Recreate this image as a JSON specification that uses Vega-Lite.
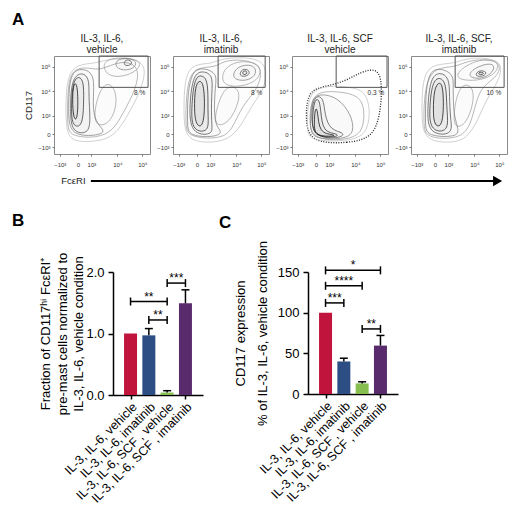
{
  "$schema": "https://vega.github.io/schema/vega-lite/v6.json",
  "padding": {"left": 12, "top": 11, "right": 0, "bottom": 0},
  "config": {
    "font": "Liberation Sans",
    "view": {"stroke": null},
    "axis": {"grid": false, "labelOverlap": false},
    "title": {"fontWeight": "normal", "color": "#222"}
  },
  "datasets": {
    "flow": [
      {"p":1,"k":1,"l":1,"x":14,"y":15},{"p":1,"k":1,"l":1,"x":30,"y":12},{"p":1,"k":1,"l":1,"x":55,"y":14},{"p":1,"k":1,"l":1,"x":68,"y":25},{"p":1,"k":1,"l":1,"x":80,"y":45},{"p":1,"k":1,"l":1,"x":92,"y":68},{"p":1,"k":1,"l":1,"x":98,"y":97},{"p":1,"k":1,"l":1,"x":60,"y":98},{"p":1,"k":1,"l":1,"x":42,"y":92},{"p":1,"k":1,"l":1,"x":25,"y":92},{"p":1,"k":1,"l":1,"x":13,"y":80},{"p":1,"k":1,"l":1,"x":12,"y":40},
      {"p":1,"k":2,"l":2,"x":16,"y":18},{"p":1,"k":2,"l":2,"x":45,"y":16},{"p":1,"k":2,"l":2,"x":62,"y":24},{"p":1,"k":2,"l":2,"x":72,"y":42},{"p":1,"k":2,"l":2,"x":85,"y":65},{"p":1,"k":2,"l":2,"x":90,"y":90},{"p":1,"k":2,"l":2,"x":70,"y":96},{"p":1,"k":2,"l":2,"x":48,"y":85},{"p":1,"k":2,"l":2,"x":38,"y":88},{"p":1,"k":2,"l":2,"x":20,"y":88},{"p":1,"k":2,"l":2,"x":14,"y":70},{"p":1,"k":2,"l":2,"x":14,"y":30},
      {"p":1,"k":3,"l":2,"x":40,"y":30},{"p":1,"k":3,"l":2,"x":55,"y":28},{"p":1,"k":3,"l":2,"x":65,"y":45},{"p":1,"k":3,"l":2,"x":65,"y":65},{"p":1,"k":3,"l":2,"x":55,"y":75},{"p":1,"k":3,"l":2,"x":45,"y":60},
      {"p":1,"k":4,"l":2,"x":55,"y":80},{"p":1,"k":4,"l":2,"x":70,"y":78},{"p":1,"k":4,"l":2,"x":88,"y":85},{"p":1,"k":4,"l":2,"x":92,"y":97},{"p":1,"k":4,"l":2,"x":60,"y":99},{"p":1,"k":4,"l":2,"x":50,"y":92},
      {"p":1,"k":5,"l":3,"x":65,"y":86},{"p":1,"k":5,"l":3,"x":80,"y":85},{"p":1,"k":5,"l":3,"x":88,"y":93},{"p":1,"k":5,"l":3,"x":78,"y":99},{"p":1,"k":5,"l":3,"x":63,"y":96},
      {"p":1,"k":6,"l":4,"x":72,"y":90},{"p":1,"k":6,"l":4,"x":80,"y":90},{"p":1,"k":6,"l":4,"x":82,"y":95},{"p":1,"k":6,"l":4,"x":74,"y":97},
      {"p":1,"k":7,"l":3,"x":16,"y":20},{"p":1,"k":7,"l":3,"x":40,"y":18},{"p":1,"k":7,"l":3,"x":55,"y":22},{"p":1,"k":7,"l":3,"x":45,"y":30},{"p":1,"k":7,"l":3,"x":40,"y":45},{"p":1,"k":7,"l":3,"x":42,"y":70},{"p":1,"k":7,"l":3,"x":40,"y":84},{"p":1,"k":7,"l":3,"x":26,"y":88},{"p":1,"k":7,"l":3,"x":16,"y":80},{"p":1,"k":7,"l":3,"x":15,"y":45},
      {"p":1,"k":8,"l":4,"x":18,"y":22},{"p":1,"k":8,"l":4,"x":36,"y":20},{"p":1,"k":8,"l":4,"x":38,"y":35},{"p":1,"k":8,"l":4,"x":36,"y":60},{"p":1,"k":8,"l":4,"x":37,"y":78},{"p":1,"k":8,"l":4,"x":28,"y":84},{"p":1,"k":8,"l":4,"x":18,"y":76},{"p":1,"k":8,"l":4,"x":17,"y":45},
      {"p":1,"k":9,"l":5,"x":19,"y":28},{"p":1,"k":9,"l":5,"x":30,"y":27},{"p":1,"k":9,"l":5,"x":31,"y":55},{"p":1,"k":9,"l":5,"x":31,"y":76},{"p":1,"k":9,"l":5,"x":24,"y":80},{"p":1,"k":9,"l":5,"x":19,"y":70},{"p":1,"k":9,"l":5,"x":18,"y":45},
      {"p":1,"k":10,"l":6,"x":20,"y":35},{"p":1,"k":10,"l":6,"x":25,"y":34},{"p":1,"k":10,"l":6,"x":25,"y":70},{"p":1,"k":10,"l":6,"x":21,"y":74},{"p":1,"k":10,"l":6,"x":19,"y":60},

      {"p":2,"k":1,"l":1,"x":13,"y":15},{"p":2,"k":1,"l":1,"x":35,"y":11},{"p":2,"k":1,"l":1,"x":58,"y":14},{"p":2,"k":1,"l":1,"x":72,"y":30},{"p":2,"k":1,"l":1,"x":82,"y":50},{"p":2,"k":1,"l":1,"x":97,"y":68},{"p":2,"k":1,"l":1,"x":98,"y":96},{"p":2,"k":1,"l":1,"x":70,"y":99},{"p":2,"k":1,"l":1,"x":50,"y":97},{"p":2,"k":1,"l":1,"x":40,"y":92},{"p":2,"k":1,"l":1,"x":22,"y":92},{"p":2,"k":1,"l":1,"x":12,"y":80},{"p":2,"k":1,"l":1,"x":11,"y":40},
      {"p":2,"k":2,"l":2,"x":15,"y":17},{"p":2,"k":2,"l":2,"x":50,"y":15},{"p":2,"k":2,"l":2,"x":62,"y":25},{"p":2,"k":2,"l":2,"x":72,"y":50},{"p":2,"k":2,"l":2,"x":88,"y":65},{"p":2,"k":2,"l":2,"x":95,"y":90},{"p":2,"k":2,"l":2,"x":72,"y":97},{"p":2,"k":2,"l":2,"x":52,"y":95},{"p":2,"k":2,"l":2,"x":44,"y":88},{"p":2,"k":2,"l":2,"x":22,"y":89},{"p":2,"k":2,"l":2,"x":14,"y":70},{"p":2,"k":2,"l":2,"x":13,"y":30},
      {"p":2,"k":3,"l":2,"x":42,"y":28},{"p":2,"k":3,"l":2,"x":58,"y":30},{"p":2,"k":3,"l":2,"x":70,"y":55},{"p":2,"k":3,"l":2,"x":68,"y":68},{"p":2,"k":3,"l":2,"x":55,"y":70},{"p":2,"k":3,"l":2,"x":46,"y":50},
      {"p":2,"k":4,"l":2,"x":50,"y":70},{"p":2,"k":4,"l":2,"x":70,"y":68},{"p":2,"k":4,"l":2,"x":90,"y":75},{"p":2,"k":4,"l":2,"x":93,"y":92},{"p":2,"k":4,"l":2,"x":70,"y":96},{"p":2,"k":4,"l":2,"x":52,"y":88},
      {"p":2,"k":5,"l":3,"x":60,"y":76},{"p":2,"k":5,"l":3,"x":78,"y":74},{"p":2,"k":5,"l":3,"x":88,"y":82},{"p":2,"k":5,"l":3,"x":84,"y":92},{"p":2,"k":5,"l":3,"x":66,"y":90},
      {"p":2,"k":6,"l":4,"x":68,"y":79},{"p":2,"k":6,"l":4,"x":78,"y":79},{"p":2,"k":6,"l":4,"x":81,"y":85},{"p":2,"k":6,"l":4,"x":72,"y":88},
      {"p":2,"k":7,"l":5,"x":72,"y":81},{"p":2,"k":7,"l":5,"x":77,"y":81},{"p":2,"k":7,"l":5,"x":77,"y":85},{"p":2,"k":7,"l":5,"x":73,"y":85},
      {"p":2,"k":8,"l":3,"x":16,"y":18},{"p":2,"k":8,"l":3,"x":45,"y":17},{"p":2,"k":8,"l":3,"x":52,"y":23},{"p":2,"k":8,"l":3,"x":42,"y":30},{"p":2,"k":8,"l":3,"x":44,"y":70},{"p":2,"k":8,"l":3,"x":46,"y":82},{"p":2,"k":8,"l":3,"x":33,"y":88},{"p":2,"k":8,"l":3,"x":20,"y":86},{"p":2,"k":8,"l":3,"x":15,"y":60},{"p":2,"k":8,"l":3,"x":15,"y":30},
      {"p":2,"k":9,"l":4,"x":18,"y":20},{"p":2,"k":9,"l":4,"x":42,"y":19},{"p":2,"k":9,"l":4,"x":40,"y":30},{"p":2,"k":9,"l":4,"x":40,"y":60},{"p":2,"k":9,"l":4,"x":42,"y":80},{"p":2,"k":9,"l":4,"x":32,"y":85},{"p":2,"k":9,"l":4,"x":21,"y":82},{"p":2,"k":9,"l":4,"x":17,"y":50},
      {"p":2,"k":10,"l":5,"x":20,"y":23},{"p":2,"k":10,"l":5,"x":38,"y":22},{"p":2,"k":10,"l":5,"x":36,"y":40},{"p":2,"k":10,"l":5,"x":37,"y":75},{"p":2,"k":10,"l":5,"x":30,"y":81},{"p":2,"k":10,"l":5,"x":22,"y":78},{"p":2,"k":10,"l":5,"x":19,"y":45},
      {"p":2,"k":11,"l":6,"x":24,"y":28},{"p":2,"k":11,"l":6,"x":33,"y":27},{"p":2,"k":11,"l":6,"x":33,"y":70},{"p":2,"k":11,"l":6,"x":28,"y":76},{"p":2,"k":11,"l":6,"x":23,"y":70},{"p":2,"k":11,"l":6,"x":22,"y":45},

      {"p":3,"k":1,"l":0,"x":17,"y":11},{"p":3,"k":1,"l":0,"x":60,"y":11},{"p":3,"k":1,"l":0,"x":84,"y":17},{"p":3,"k":1,"l":0,"x":92,"y":40},{"p":3,"k":1,"l":0,"x":94,"y":70},{"p":3,"k":1,"l":0,"x":90,"y":88},{"p":3,"k":1,"l":0,"x":72,"y":84},{"p":3,"k":1,"l":0,"x":55,"y":74},{"p":3,"k":1,"l":0,"x":35,"y":69},{"p":3,"k":1,"l":0,"x":17,"y":65},{"p":3,"k":1,"l":0,"x":14,"y":40},
      {"p":3,"k":2,"l":1,"x":18,"y":13},{"p":3,"k":2,"l":1,"x":60,"y":13},{"p":3,"k":2,"l":1,"x":78,"y":20},{"p":3,"k":2,"l":1,"x":82,"y":45},{"p":3,"k":2,"l":1,"x":76,"y":65},{"p":3,"k":2,"l":1,"x":60,"y":68},{"p":3,"k":2,"l":1,"x":45,"y":70},{"p":3,"k":2,"l":1,"x":22,"y":67},{"p":3,"k":2,"l":1,"x":16,"y":50},{"p":3,"k":2,"l":1,"x":16,"y":25},
      {"p":3,"k":3,"l":2,"x":19,"y":14},{"p":3,"k":3,"l":2,"x":58,"y":14},{"p":3,"k":3,"l":2,"x":74,"y":22},{"p":3,"k":3,"l":2,"x":76,"y":45},{"p":3,"k":3,"l":2,"x":70,"y":60},{"p":3,"k":3,"l":2,"x":48,"y":64},{"p":3,"k":3,"l":2,"x":22,"y":64},{"p":3,"k":3,"l":2,"x":18,"y":40},
      {"p":3,"k":4,"l":3,"x":20,"y":15},{"p":3,"k":4,"l":3,"x":55,"y":15},{"p":3,"k":4,"l":3,"x":65,"y":22},{"p":3,"k":4,"l":3,"x":62,"y":40},{"p":3,"k":4,"l":3,"x":48,"y":58},{"p":3,"k":4,"l":3,"x":28,"y":62},{"p":3,"k":4,"l":3,"x":20,"y":55},{"p":3,"k":4,"l":3,"x":19,"y":30},
      {"p":3,"k":5,"l":4,"x":21,"y":16},{"p":3,"k":5,"l":4,"x":52,"y":16},{"p":3,"k":5,"l":4,"x":55,"y":22},{"p":3,"k":5,"l":4,"x":40,"y":24},{"p":3,"k":5,"l":4,"x":34,"y":40},{"p":3,"k":5,"l":4,"x":33,"y":58},{"p":3,"k":5,"l":4,"x":24,"y":60},{"p":3,"k":5,"l":4,"x":20,"y":45},
      {"p":3,"k":6,"l":5,"x":22,"y":17},{"p":3,"k":6,"l":5,"x":48,"y":17},{"p":3,"k":6,"l":5,"x":48,"y":21},{"p":3,"k":6,"l":5,"x":32,"y":22},{"p":3,"k":6,"l":5,"x":30,"y":45},{"p":3,"k":6,"l":5,"x":28,"y":57},{"p":3,"k":6,"l":5,"x":23,"y":55},{"p":3,"k":6,"l":5,"x":21,"y":35},
      {"p":3,"k":7,"l":6,"x":24,"y":18},{"p":3,"k":7,"l":6,"x":45,"y":18},{"p":3,"k":7,"l":6,"x":44,"y":20},{"p":3,"k":7,"l":6,"x":28,"y":21},{"p":3,"k":7,"l":6,"x":27,"y":45},{"p":3,"k":7,"l":6,"x":24,"y":48},{"p":3,"k":7,"l":6,"x":23,"y":30},

      {"p":4,"k":1,"l":1,"x":13,"y":14},{"p":4,"k":1,"l":1,"x":40,"y":11},{"p":4,"k":1,"l":1,"x":58,"y":15},{"p":4,"k":1,"l":1,"x":70,"y":35},{"p":4,"k":1,"l":1,"x":78,"y":55},{"p":4,"k":1,"l":1,"x":92,"y":75},{"p":4,"k":1,"l":1,"x":97,"y":97},{"p":4,"k":1,"l":1,"x":60,"y":99},{"p":4,"k":1,"l":1,"x":45,"y":92},{"p":4,"k":1,"l":1,"x":25,"y":92},{"p":4,"k":1,"l":1,"x":12,"y":82},{"p":4,"k":1,"l":1,"x":11,"y":40},
      {"p":4,"k":2,"l":2,"x":15,"y":16},{"p":4,"k":2,"l":2,"x":50,"y":15},{"p":4,"k":2,"l":2,"x":62,"y":28},{"p":4,"k":2,"l":2,"x":68,"y":55},{"p":4,"k":2,"l":2,"x":75,"y":70},{"p":4,"k":2,"l":2,"x":92,"y":80},{"p":4,"k":2,"l":2,"x":94,"y":96},{"p":4,"k":2,"l":2,"x":62,"y":97},{"p":4,"k":2,"l":2,"x":46,"y":88},{"p":4,"k":2,"l":2,"x":25,"y":89},{"p":4,"k":2,"l":2,"x":14,"y":70},{"p":4,"k":2,"l":2,"x":13,"y":30},
      {"p":4,"k":3,"l":2,"x":44,"y":25},{"p":4,"k":3,"l":2,"x":58,"y":30},{"p":4,"k":3,"l":2,"x":66,"y":55},{"p":4,"k":3,"l":2,"x":64,"y":70},{"p":4,"k":3,"l":2,"x":52,"y":72},{"p":4,"k":3,"l":2,"x":45,"y":50},
      {"p":4,"k":4,"l":2,"x":46,"y":76},{"p":4,"k":4,"l":2,"x":70,"y":74},{"p":4,"k":4,"l":2,"x":90,"y":82},{"p":4,"k":4,"l":2,"x":92,"y":96},{"p":4,"k":4,"l":2,"x":70,"y":97},{"p":4,"k":4,"l":2,"x":50,"y":86},
      {"p":4,"k":5,"l":3,"x":58,"y":78},{"p":4,"k":5,"l":3,"x":76,"y":76},{"p":4,"k":5,"l":3,"x":88,"y":86},{"p":4,"k":5,"l":3,"x":85,"y":94},{"p":4,"k":5,"l":3,"x":65,"y":88},
      {"p":4,"k":6,"l":4,"x":66,"y":79},{"p":4,"k":6,"l":4,"x":76,"y":79},{"p":4,"k":6,"l":4,"x":80,"y":84},{"p":4,"k":6,"l":4,"x":70,"y":86},
      {"p":4,"k":7,"l":5,"x":70,"y":81},{"p":4,"k":7,"l":5,"x":75,"y":81},{"p":4,"k":7,"l":5,"x":76,"y":83},{"p":4,"k":7,"l":5,"x":71,"y":84},
      {"p":4,"k":8,"l":3,"x":16,"y":18},{"p":4,"k":8,"l":3,"x":48,"y":17},{"p":4,"k":8,"l":3,"x":50,"y":25},{"p":4,"k":8,"l":3,"x":44,"y":40},{"p":4,"k":8,"l":3,"x":44,"y":70},{"p":4,"k":8,"l":3,"x":44,"y":82},{"p":4,"k":8,"l":3,"x":30,"y":88},{"p":4,"k":8,"l":3,"x":18,"y":84},{"p":4,"k":8,"l":3,"x":15,"y":55},{"p":4,"k":8,"l":3,"x":15,"y":30},
      {"p":4,"k":9,"l":4,"x":18,"y":20},{"p":4,"k":9,"l":4,"x":44,"y":19},{"p":4,"k":9,"l":4,"x":41,"y":35},{"p":4,"k":9,"l":4,"x":40,"y":60},{"p":4,"k":9,"l":4,"x":40,"y":78},{"p":4,"k":9,"l":4,"x":30,"y":84},{"p":4,"k":9,"l":4,"x":20,"y":78},{"p":4,"k":9,"l":4,"x":17,"y":45},
      {"p":4,"k":10,"l":5,"x":20,"y":23},{"p":4,"k":10,"l":5,"x":40,"y":22},{"p":4,"k":10,"l":5,"x":37,"y":45},{"p":4,"k":10,"l":5,"x":37,"y":72},{"p":4,"k":10,"l":5,"x":30,"y":79},{"p":4,"k":10,"l":5,"x":22,"y":74},{"p":4,"k":10,"l":5,"x":19,"y":45},
      {"p":4,"k":11,"l":6,"x":24,"y":28},{"p":4,"k":11,"l":6,"x":34,"y":27},{"p":4,"k":11,"l":6,"x":34,"y":70},{"p":4,"k":11,"l":6,"x":29,"y":74},{"p":4,"k":11,"l":6,"x":24,"y":66},{"p":4,"k":11,"l":6,"x":23,"y":45}
    ],
    "gates": [
      {"p":1,"x":47,"x2":98,"y":68,"y2":100},
      {"p":2,"x":47,"x2":96,"y":68,"y2":100},
      {"p":3,"x":46,"x2":99,"y":68,"y2":100},
      {"p":4,"x":46,"x2":97,"y":68,"y2":100}
    ],
    "pcts": [
      {"p":1,"x":95,"y":62,"pct":"8 %"},
      {"p":2,"x":93,"y":62,"pct":"8 %"},
      {"p":3,"x":96,"y":62,"pct":"0.3 %"},
      {"p":4,"x":94,"y":62,"pct":"10 %"}
    ],
    "arrow": [{"a":16,"b":98.5,"t":10,"lab":"FcεRI"}],
    "barsB": [
      {"i":0,"cond":"IL-3, IL-6, vehicle","v":1.0},
      {"i":1,"cond":"IL-3, IL-6, imatinib","v":0.97,"hi":1.08},
      {"i":2,"cond":"IL-3, IL-6, SCF , vehicle","v":0.04,"hi":0.07},
      {"i":3,"cond":"IL-3, IL-6, SCF , imatinib","v":1.49,"hi":1.71}
    ],
    "barsC": [
      {"i":0,"cond":"IL-3, IL-6, vehicle","v":100},
      {"i":1,"cond":"IL-3, IL-6, imatinib","v":40,"hi":44},
      {"i":2,"cond":"IL-3, IL-6, SCF , vehicle","v":13,"hi":15},
      {"i":3,"cond":"IL-3, IL-6, SCF , imatinib","v":59.5,"hi":72}
    ],
    "brkB": [
      {"a":0,"b":2,"m":1,"y":1.52,"s":"**"},
      {"a":1,"b":2,"m":1.5,"y":1.22,"s":"**"},
      {"a":2,"b":3,"m":2.5,"y":1.82,"s":"***"}
    ],
    "brkC": [
      {"a":0,"b":3,"m":1.5,"y":152,"s":"*"},
      {"a":0,"b":2,"m":1,"y":133,"s":"****"},
      {"a":0,"b":1,"m":0.5,"y":112,"s":"***"},
      {"a":2,"b":3,"m":2.5,"y":80,"s":"**"}
    ]
  },
  "vconcat": [
    {
      "vconcat": [
        {
          "title": {"text": "A", "anchor": "start", "frame": "bounds", "fontSize": 17, "fontWeight": "bold", "color": "#000", "offset": 4},
          "spacing": 5,
          "hconcat": [
            {"width": 6, "height": 10, "data": {"values": []}, "mark": {"type": "point"}, "encoding": {}},
            {
              "width": 96, "height": 98,
              "view": {"stroke": "#8a8a8a"},
              "title": {"text": ["IL-3, IL-6,", "vehicle"], "fontSize": 10, "lineHeight": 11, "offset": 1},
              "data": {"name": "flow"},
              "encoding": {
                "x": {"field": "x", "type": "quantitative", "scale": {"domain": [0, 100], "nice": false},
                  "axis": {"values": [6, 25, 39, 66, 92], "labelExpr": "datum.value==6?'−10³':datum.value==25?'0':datum.value==39?'10³':datum.value==66?'10⁴':'10⁵'", "title": null, "domain": false, "tickSize": 2, "tickColor": "#777", "labelFontSize": 6, "labelColor": "#333", "labelPadding": 5, "labelFlush": false}},
                "y": {"field": "y", "type": "quantitative", "scale": {"domain": [0, 100], "nice": false},
                  "axis": {"values": [7, 20, 39, 64, 89], "labelExpr": "datum.value==7?'−10³':datum.value==20?'0':datum.value==39?'10³':datum.value==64?'10⁴':'10⁵'", "title": "CD117", "titleFontSize": 9.5, "titleFontWeight": "normal", "titleColor": "#222", "titlePadding": 4, "domain": false, "tickSize": 2, "tickColor": "#777", "labelFontSize": 6, "labelColor": "#333", "labelPadding": 2, "labelFlush": false}}
              },
              "layer": [
                {
                  "transform": [{"filter": "datum.p == 1 && datum.l > 0"}],
                  "mark": {"type": "line", "interpolate": "basis-closed", "fill": "#000", "strokeWidth": 0.7},
                  "encoding": {
                    "detail": {"field": "k"},
                    "order": {"value": null},
                    "color": {"field": "l", "type": "ordinal", "scale": {"domain": [1, 2, 3, 4, 5, 6], "range": ["#bbbbbb", "#999999", "#777777", "#444444", "#222222", "#000000"]}, "legend": null},
                    "fillOpacity": {"field": "l", "type": "ordinal", "scale": {"domain": [1, 2, 3, 4, 5, 6], "range": [0, 0.04, 0.08, 0.16, 0.3, 0.45]}, "legend": null}
                  }
                },
                {
                  "data": {"name": "gates"},
                  "transform": [{"filter": "datum.p == 1"}],
                  "mark": {"type": "rect", "filled": false, "color": "#555", "strokeWidth": 1},
                  "encoding": {"x2": {"field": "x2"}, "y2": {"field": "y2"}}
                },
                {
                  "data": {"name": "pcts"},
                  "transform": [{"filter": "datum.p == 1"}],
                  "mark": {"type": "text", "align": "right", "fontSize": 6.5, "color": "#333"},
                  "encoding": {"text": {"field": "pct"}}
                }
              ]
            },
            {
              "width": 96, "height": 98,
              "view": {"stroke": "#8a8a8a"},
              "title": {"text": ["IL-3, IL-6,", "imatinib"], "fontSize": 10, "lineHeight": 11, "offset": 1},
              "data": {"name": "flow"},
              "encoding": {
                "x": {"field": "x", "type": "quantitative", "scale": {"domain": [0, 100], "nice": false},
                  "axis": {"values": [6, 25, 39, 66, 92], "labelExpr": "datum.value==6?'−10³':datum.value==25?'0':datum.value==39?'10³':datum.value==66?'10⁴':'10⁵'", "title": null, "domain": false, "tickSize": 2, "tickColor": "#777", "labelFontSize": 6, "labelColor": "#333", "labelPadding": 5, "labelFlush": false}},
                "y": {"field": "y", "type": "quantitative", "scale": {"domain": [0, 100], "nice": false},
                  "axis": {"values": [7, 20, 39, 64, 89], "labelExpr": "datum.value==7?'−10³':datum.value==20?'0':datum.value==39?'10³':datum.value==64?'10⁴':'10⁵'", "title": null, "domain": false, "tickSize": 2, "tickColor": "#777", "labelFontSize": 6, "labelColor": "#333", "labelPadding": 2, "labelFlush": false}}
              },
              "layer": [
                {
                  "transform": [{"filter": "datum.p == 2 && datum.l > 0"}],
                  "mark": {"type": "line", "interpolate": "basis-closed", "fill": "#000", "strokeWidth": 0.7},
                  "encoding": {
                    "detail": {"field": "k"},
                    "order": {"value": null},
                    "color": {"field": "l", "type": "ordinal", "scale": {"domain": [1, 2, 3, 4, 5, 6], "range": ["#bbbbbb", "#999999", "#777777", "#444444", "#222222", "#000000"]}, "legend": null},
                    "fillOpacity": {"field": "l", "type": "ordinal", "scale": {"domain": [1, 2, 3, 4, 5, 6], "range": [0, 0.04, 0.08, 0.16, 0.3, 0.45]}, "legend": null}
                  }
                },
                {
                  "data": {"name": "gates"},
                  "transform": [{"filter": "datum.p == 2"}],
                  "mark": {"type": "rect", "filled": false, "color": "#555", "strokeWidth": 1},
                  "encoding": {"x2": {"field": "x2"}, "y2": {"field": "y2"}}
                },
                {
                  "data": {"name": "pcts"},
                  "transform": [{"filter": "datum.p == 2"}],
                  "mark": {"type": "text", "align": "right", "fontSize": 6.5, "color": "#333"},
                  "encoding": {"text": {"field": "pct"}}
                }
              ]
            },
            {
              "width": 96, "height": 98,
              "view": {"stroke": "#8a8a8a"},
              "title": {"text": ["IL-3, IL-6, SCF", "vehicle"], "fontSize": 10, "lineHeight": 11, "offset": 1},
              "data": {"name": "flow"},
              "encoding": {
                "x": {"field": "x", "type": "quantitative", "scale": {"domain": [0, 100], "nice": false},
                  "axis": {"values": [6, 25, 39, 66, 92], "labelExpr": "datum.value==6?'−10³':datum.value==25?'0':datum.value==39?'10³':datum.value==66?'10⁴':'10⁵'", "title": null, "domain": false, "tickSize": 2, "tickColor": "#777", "labelFontSize": 6, "labelColor": "#333", "labelPadding": 5, "labelFlush": false}},
                "y": {"field": "y", "type": "quantitative", "scale": {"domain": [0, 100], "nice": false},
                  "axis": {"values": [7, 20, 39, 64, 89], "labelExpr": "datum.value==7?'−10³':datum.value==20?'0':datum.value==39?'10³':datum.value==64?'10⁴':'10⁵'", "title": null, "domain": false, "tickSize": 2, "tickColor": "#777", "labelFontSize": 6, "labelColor": "#333", "labelPadding": 2, "labelFlush": false}}
              },
              "layer": [
                {
                  "transform": [{"filter": "datum.p == 3 && datum.l == 0"}],
                  "mark": {"type": "line", "interpolate": "basis-closed", "strokeDash": [1, 1.5], "stroke": "#222", "strokeWidth": 1.3},
                  "encoding": {"detail": {"field": "k"}, "order": {"value": null}}
                },
                {
                  "transform": [{"filter": "datum.p == 3 && datum.l > 0"}],
                  "mark": {"type": "line", "interpolate": "basis-closed", "fill": "#000", "strokeWidth": 0.7},
                  "encoding": {
                    "detail": {"field": "k"},
                    "order": {"value": null},
                    "color": {"field": "l", "type": "ordinal", "scale": {"domain": [1, 2, 3, 4, 5, 6], "range": ["#bbbbbb", "#999999", "#777777", "#444444", "#222222", "#000000"]}, "legend": null},
                    "fillOpacity": {"field": "l", "type": "ordinal", "scale": {"domain": [1, 2, 3, 4, 5, 6], "range": [0, 0.04, 0.08, 0.16, 0.3, 0.45]}, "legend": null}
                  }
                },
                {
                  "data": {"name": "gates"},
                  "transform": [{"filter": "datum.p == 3"}],
                  "mark": {"type": "rect", "filled": false, "color": "#555", "strokeWidth": 1},
                  "encoding": {"x2": {"field": "x2"}, "y2": {"field": "y2"}}
                },
                {
                  "data": {"name": "pcts"},
                  "transform": [{"filter": "datum.p == 3"}],
                  "mark": {"type": "text", "align": "right", "fontSize": 6.5, "color": "#333"},
                  "encoding": {"text": {"field": "pct"}}
                }
              ]
            },
            {
              "width": 96, "height": 98,
              "view": {"stroke": "#8a8a8a"},
              "title": {"text": ["IL-3, IL-6, SCF,", "imatinib"], "fontSize": 10, "lineHeight": 11, "offset": 1},
              "data": {"name": "flow"},
              "encoding": {
                "x": {"field": "x", "type": "quantitative", "scale": {"domain": [0, 100], "nice": false},
                  "axis": {"values": [6, 25, 39, 66, 92], "labelExpr": "datum.value==6?'−10³':datum.value==25?'0':datum.value==39?'10³':datum.value==66?'10⁴':'10⁵'", "title": null, "domain": false, "tickSize": 2, "tickColor": "#777", "labelFontSize": 6, "labelColor": "#333", "labelPadding": 5, "labelFlush": false}},
                "y": {"field": "y", "type": "quantitative", "scale": {"domain": [0, 100], "nice": false},
                  "axis": {"values": [7, 20, 39, 64, 89], "labelExpr": "datum.value==7?'−10³':datum.value==20?'0':datum.value==39?'10³':datum.value==64?'10⁴':'10⁵'", "title": null, "domain": false, "tickSize": 2, "tickColor": "#777", "labelFontSize": 6, "labelColor": "#333", "labelPadding": 2, "labelFlush": false}}
              },
              "layer": [
                {
                  "transform": [{"filter": "datum.p == 4 && datum.l > 0"}],
                  "mark": {"type": "line", "interpolate": "basis-closed", "fill": "#000", "strokeWidth": 0.7},
                  "encoding": {
                    "detail": {"field": "k"},
                    "order": {"value": null},
                    "color": {"field": "l", "type": "ordinal", "scale": {"domain": [1, 2, 3, 4, 5, 6], "range": ["#bbbbbb", "#999999", "#777777", "#444444", "#222222", "#000000"]}, "legend": null},
                    "fillOpacity": {"field": "l", "type": "ordinal", "scale": {"domain": [1, 2, 3, 4, 5, 6], "range": [0, 0.04, 0.08, 0.16, 0.3, 0.45]}, "legend": null}
                  }
                },
                {
                  "data": {"name": "gates"},
                  "transform": [{"filter": "datum.p == 4"}],
                  "mark": {"type": "rect", "filled": false, "color": "#555", "strokeWidth": 1},
                  "encoding": {"x2": {"field": "x2"}, "y2": {"field": "y2"}}
                },
                {
                  "data": {"name": "pcts"},
                  "transform": [{"filter": "datum.p == 4"}],
                  "mark": {"type": "text", "align": "right", "fontSize": 6.5, "color": "#333"},
                  "encoding": {"text": {"field": "pct"}}
                }
              ]
            }
          ]
        },
        {
          "width": 493, "height": 10,
          "data": {"name": "arrow"},
          "layer": [
            {
              "mark": {"type": "rule", "strokeWidth": 2, "color": "#000"},
              "encoding": {
                "x": {"field": "a", "type": "quantitative", "scale": {"domain": [0, 100], "nice": false}, "axis": null},
                "x2": {"field": "b"},
                "y": {"datum": 0.5, "type": "quantitative", "scale": {"domain": [0, 1]}, "axis": null}
              }
            },
            {
              "mark": {"type": "point", "shape": "triangle-right", "filled": true, "color": "#000", "size": 110, "opacity": 1},
              "encoding": {
                "x": {"field": "b", "type": "quantitative"},
                "y": {"datum": 0.5, "type": "quantitative"}
              }
            },
            {
              "mark": {"type": "text", "align": "left", "fontSize": 9.5, "color": "#222"},
              "encoding": {
                "x": {"field": "t", "type": "quantitative"},
                "y": {"datum": 0.5, "type": "quantitative"},
                "text": {"field": "lab"}
              }
            }
          ]
        }
      ],
      "spacing": 7
    },
    {
      "spacing": 13,
      "hconcat": [
        {
          "width": 14, "height": 10,
          "title": {"text": "B", "anchor": "start", "offset": 42, "fontSize": 17, "fontWeight": "bold", "color": "#000"},
          "data": {"values": []}, "mark": {"type": "point"}, "encoding": {}
        },
        {
          "spacing": 16,
          "hconcat": [
            {
              "width": 90, "height": 123,
              "layer": [
                {
                  "data": {"name": "barsB"},
                  "mark": {"type": "bar", "width": 13, "orient": "vertical"},
                  "encoding": {
                    "x": {"field": "i", "type": "quantitative", "scale": {"domain": [-0.685, 3.685], "nice": false, "zero": false},
                      "axis": {"values": [0, 1, 2, 3], "labels": false, "title": null, "domainColor": "#000", "domainWidth": 1.5, "tickColor": "#000", "tickWidth": 1.5, "tickSize": 4}},
                    "y": {"field": "v", "type": "quantitative", "scale": {"domain": [0, 2], "nice": false},
                      "axis": {"values": [0, 0.5, 1, 1.5, 2], "format": ".1f", "title": ["Fraction of CD117ʰⁱ FcεRI⁺", "pre-mast cells normalized to", "IL-3, IL-6, vehicle condition"], "titleFontSize": 13, "titleFontWeight": "normal", "titleColor": "#000", "titleLineHeight": 16.5, "titlePadding": 0, "labelFontSize": 13, "labelColor": "#000", "labelPadding": 4, "domainColor": "#000", "domainWidth": 1.5, "tickColor": "#000", "tickWidth": 1.5, "tickSize": 5}},
                    "fill": {"field": "i", "type": "nominal", "scale": {"domain": [0, 1, 2, 3], "range": ["#c0143c", "#2d4e85", "#86bf4f", "#5a2b6c"]}, "legend": null}
                  }
                },
                {
                  "data": {"name": "barsB"},
                  "mark": {"type": "text", "angle": 315, "align": "right", "baseline": "middle", "dx": -4, "dy": 10, "fontSize": 12.5, "color": "#000"},
                  "encoding": {"x": {"field": "i", "type": "quantitative"}, "y": {"datum": 0, "type": "quantitative"}, "text": {"field": "cond"}}
                },
                {
                  "data": {"name": "barsB"},
                  "transform": [{"filter": "isValid(datum.hi)"}],
                  "mark": {"type": "rule", "strokeWidth": 1.5, "color": "#000"},
                  "encoding": {"x": {"field": "i", "type": "quantitative"}, "y": {"field": "v", "type": "quantitative"}, "y2": {"field": "hi"}}
                },
                {
                  "data": {"name": "barsB"},
                  "transform": [{"filter": "isValid(datum.hi)"}],
                  "mark": {"type": "point", "shape": "M-1,0L1,0", "size": 64, "color": "#000", "strokeWidth": 1.5, "opacity": 1},
                  "encoding": {"x": {"field": "i", "type": "quantitative"}, "y": {"field": "hi", "type": "quantitative"}}
                },
                {
                  "data": {"name": "brkB"},
                  "mark": {"type": "rule", "strokeWidth": 1.5, "color": "#000"},
                  "encoding": {"x": {"field": "a", "type": "quantitative"}, "x2": {"field": "b"}, "y": {"field": "y", "type": "quantitative"}}
                },
                {
                  "data": {"name": "brkB"},
                  "mark": {"type": "point", "shape": "M0,-1L0,1", "size": 64, "color": "#000", "strokeWidth": 1.5, "opacity": 1},
                  "encoding": {"x": {"field": "a", "type": "quantitative"}, "y": {"field": "y", "type": "quantitative"}}
                },
                {
                  "data": {"name": "brkB"},
                  "mark": {"type": "point", "shape": "M0,-1L0,1", "size": 64, "color": "#000", "strokeWidth": 1.5, "opacity": 1},
                  "encoding": {"x": {"field": "b", "type": "quantitative"}, "y": {"field": "y", "type": "quantitative"}}
                },
                {
                  "data": {"name": "brkB"},
                  "mark": {"type": "text", "fontSize": 12, "baseline": "alphabetic", "dy": -1, "color": "#000"},
                  "encoding": {"x": {"field": "m", "type": "quantitative"}, "y": {"field": "y", "type": "quantitative"}, "text": {"field": "s"}}
                }
              ]
            },
            {
              "width": 90, "height": 122,
              "title": {"text": "C", "anchor": "start", "frame": "group", "dx": -89, "offset": 9, "fontSize": 17, "fontWeight": "bold", "color": "#000"},
              "layer": [
                {
                  "data": {"name": "barsC"},
                  "mark": {"type": "bar", "width": 13, "orient": "vertical"},
                  "encoding": {
                    "x": {"field": "i", "type": "quantitative", "scale": {"domain": [-0.685, 3.685], "nice": false, "zero": false},
                      "axis": {"values": [0, 1, 2, 3], "labels": false, "title": null, "domainColor": "#000", "domainWidth": 1.5, "tickColor": "#000", "tickWidth": 1.5, "tickSize": 4}},
                    "y": {"field": "v", "type": "quantitative", "scale": {"domain": [0, 150], "nice": false},
                      "axis": {"values": [0, 50, 100, 150], "title": ["CD117 expression", "% of IL-3, IL-6, vehicle condition"], "titleFontSize": 13, "titleFontWeight": "normal", "titleColor": "#000", "titleLineHeight": 22, "titlePadding": 8, "labelFontSize": 13, "labelColor": "#000", "labelPadding": 4, "domainColor": "#000", "domainWidth": 1.5, "tickColor": "#000", "tickWidth": 1.5, "tickSize": 5}},
                    "fill": {"field": "i", "type": "nominal", "scale": {"domain": [0, 1, 2, 3], "range": ["#c0143c", "#2d4e85", "#86bf4f", "#5a2b6c"]}, "legend": null}
                  }
                },
                {
                  "data": {"name": "barsC"},
                  "mark": {"type": "text", "angle": 315, "align": "right", "baseline": "middle", "dx": -4, "dy": 10, "fontSize": 12.5, "color": "#000"},
                  "encoding": {"x": {"field": "i", "type": "quantitative"}, "y": {"datum": 0, "type": "quantitative"}, "text": {"field": "cond"}}
                },
                {
                  "data": {"name": "barsC"},
                  "transform": [{"filter": "isValid(datum.hi)"}],
                  "mark": {"type": "rule", "strokeWidth": 1.5, "color": "#000"},
                  "encoding": {"x": {"field": "i", "type": "quantitative"}, "y": {"field": "v", "type": "quantitative"}, "y2": {"field": "hi"}}
                },
                {
                  "data": {"name": "barsC"},
                  "transform": [{"filter": "isValid(datum.hi)"}],
                  "mark": {"type": "point", "shape": "M-1,0L1,0", "size": 64, "color": "#000", "strokeWidth": 1.5, "opacity": 1},
                  "encoding": {"x": {"field": "i", "type": "quantitative"}, "y": {"field": "hi", "type": "quantitative"}}
                },
                {
                  "data": {"name": "brkC"},
                  "mark": {"type": "rule", "strokeWidth": 1.5, "color": "#000"},
                  "encoding": {"x": {"field": "a", "type": "quantitative"}, "x2": {"field": "b"}, "y": {"field": "y", "type": "quantitative"}}
                },
                {
                  "data": {"name": "brkC"},
                  "mark": {"type": "point", "shape": "M0,-1L0,1", "size": 64, "color": "#000", "strokeWidth": 1.5, "opacity": 1},
                  "encoding": {"x": {"field": "a", "type": "quantitative"}, "y": {"field": "y", "type": "quantitative"}}
                },
                {
                  "data": {"name": "brkC"},
                  "mark": {"type": "point", "shape": "M0,-1L0,1", "size": 64, "color": "#000", "strokeWidth": 1.5, "opacity": 1},
                  "encoding": {"x": {"field": "b", "type": "quantitative"}, "y": {"field": "y", "type": "quantitative"}}
                },
                {
                  "data": {"name": "brkC"},
                  "mark": {"type": "text", "fontSize": 12, "baseline": "alphabetic", "dy": -1, "color": "#000"},
                  "encoding": {"x": {"field": "m", "type": "quantitative"}, "y": {"field": "y", "type": "quantitative"}, "text": {"field": "s"}}
                }
              ]
            }
          ]
        }
      ]
    }
  ],
  "spacing": 25
}
